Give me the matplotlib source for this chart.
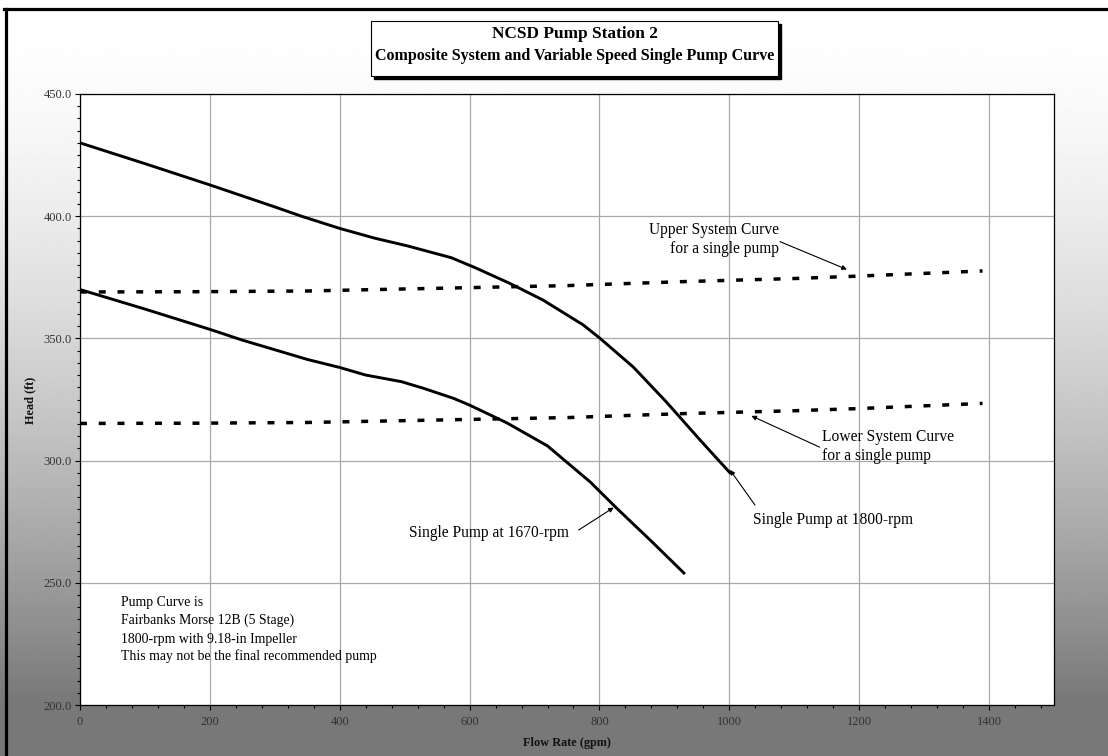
import numpy as np
import matplotlib
matplotlib.use('Agg')
import matplotlib.pyplot as plt
from matplotlib.lines import Line2D
from matplotlib.patches import Rectangle
from matplotlib.ticker import MultipleLocator

plt.rcParams['font.family'] = ['Liberation Serif', 'DejaVu Serif']

# pump curves (flow gpm, head ft)
flow_1800 = [0, 100, 200, 300, 341, 400, 454, 505, 572, 608, 662, 713,
             775, 801, 852, 903, 955, 1001]
head_1800 = [430.0, 421.5, 412.8, 403.8, 400.0, 395.0, 391.0, 387.8, 383.0,
             379.0, 372.5, 365.7, 355.5, 350.0, 338.3, 324.0, 308.4, 295.0]

flow_1670 = [0, 100, 200, 250, 350, 400, 440, 495, 530, 575, 600, 657,
             720, 786, 827, 880, 930]
head_1670 = [370.0, 362.0, 353.7, 349.3, 341.4, 338.1, 335.0, 332.3, 329.5,
             325.5, 322.7, 315.5, 306.0, 291.2, 280.4, 267.0, 254.0]

# system curves
flow_sys = [0, 175, 350, 550, 750, 925, 1100, 1200, 1390]
head_upper = [369.0, 369.1, 369.4, 370.5, 371.6, 373.2, 374.5, 375.5, 377.6]
head_lower = [315.2, 315.3, 315.6, 316.6, 317.6, 319.2, 320.4, 321.3, 323.4]

x_ticks = [0, 200, 400, 600, 800, 1000, 1200, 1400]
y_ticks = [200, 250, 300, 350, 400, 450]

note_lines = ['Pump Curve is', 'Fairbanks Morse 12B (5 Stage)',
              '1800-rpm with 9.18-in Impeller',
              'This may not be the final recommended pump']

W, H = 1108, 756
fig = plt.figure(figsize=(W / 100, H / 100), dpi=100)

# gradient background
bg = fig.add_axes([0, 0, 1, 1], zorder=0)
t = np.linspace(0, 1, 400)
shade = 1 - 0.53 * np.clip(t / 0.93, 0, 1) ** 1.6
bg.imshow(shade[:, None], cmap='gray', vmin=0, vmax=1, aspect='auto',
          extent=[0, 1, 0, 1 - 9 / H])
bg.set_xlim(0, 1)
bg.set_ylim(0, 1)
bg.axis('off')

# frame lines (top and left)
fig.add_artist(Line2D([4 / W, 1], [1 - 8.5 / H] * 2, transform=fig.transFigure,
                      color='black', lw=2.3, zorder=5))
fig.add_artist(Line2D([5.5 / W] * 2, [0, 1 - 8.5 / H],
                      transform=fig.transFigure, color='black', lw=2.3,
                      zorder=5))

ax = fig.add_axes([80 / W, 1 - 705 / H, (1054 - 80) / W, (705 - 94) / H],
                  zorder=2)
ax.set_facecolor('white')

ax.plot(flow_1800, head_1800, color='black', lw=2.1, zorder=3,
        solid_joinstyle='round')
ax.plot(flow_1670, head_1670, color='black', lw=2.1, zorder=3,
        solid_joinstyle='round')
for h in (head_upper, head_lower):
    ax.plot(flow_sys, h, color='black', lw=2.5, dashes=(2.0, 3.4),
            dash_capstyle='butt', zorder=3)

ax.set_xlim(0, 1500)
ax.set_ylim(200, 450)
ax.set_xticks(x_ticks)
ax.set_xticklabels([str(v) for v in x_ticks])
ax.set_yticks(y_ticks)
ax.set_yticklabels(['%.1f' % v for v in y_ticks])
ax.xaxis.set_minor_locator(MultipleLocator(40))
ax.yaxis.set_minor_locator(MultipleLocator(5))
ax.tick_params(which='major', direction='out', length=3.5, width=0.8,
               labelsize=9, colors='black', labelcolor='#333333')
ax.tick_params(which='minor', direction='out', length=2.5, width=0.8)
ax.tick_params(axis='x', pad=4.5)
ax.tick_params(axis='y', pad=2.5)
ax.grid(True, which='major', color='#a8a8a8', lw=0.9)
ax.set_axisbelow(True)
for s in ax.spines.values():
    s.set_color('black')
    s.set_linewidth(0.9)

fig.text(567 / W, 1 - 743 / H, 'Flow Rate (gpm)', ha='center', va='center',
         fontsize=8.8, fontweight='bold', color='#111111')
fig.text(30 / W, 1 - 400 / H, 'Head (ft)', ha='center', va='center',
         rotation=90, fontsize=8.8, fontweight='bold', color='#111111')

# annotations
fs = 11.2
arrow = dict(arrowstyle='-|>', color='black', lw=0.8, mutation_scale=7,
             shrinkA=0, shrinkB=0)
ax.text(1076, 390.4, 'Upper System Curve\nfor a single pump', ha='right',
        va='center', multialignment='right', fontsize=fs, linespacing=1.3)
ax.annotate('', xy=(1181, 378.2), xytext=(1078, 389.6), arrowprops=arrow)

ax.text(1143, 305.8, 'Lower System Curve\nfor a single pump', ha='left',
        va='center', fontsize=fs, linespacing=1.3)
ax.annotate('', xy=(1034, 318.3), xytext=(1139, 305.5), arrowprops=arrow)

ax.text(1037, 275.7, 'Single Pump at 1800-rpm', ha='left', va='center',
        fontsize=fs)
ax.annotate('', xy=(1001, 296.2), xytext=(1039.5, 281.8), arrowprops=arrow)

ax.text(753, 270.3, 'Single Pump at 1670-rpm', ha='right', va='center',
        fontsize=fs)
ax.annotate('', xy=(822, 280.8), xytext=(768, 271.6), arrowprops=arrow)

for line, yv in zip(note_lines, [242.0, 234.5, 227.0, 219.8]):
    ax.text(63, yv, line, ha='left', va='center', fontsize=9.9)

# title box with shadow
bx, by, bw, bh = 370.7 / W, 1 - 76 / H, 407.6 / W, 55.3 / H
fig.add_artist(Rectangle((bx + 3 / W, by - 3 / H), bw, bh,
                         transform=fig.transFigure, facecolor='black',
                         edgecolor='black', zorder=6))
fig.add_artist(Rectangle((bx, by), bw, bh, transform=fig.transFigure,
                         facecolor='white', edgecolor='black', lw=0.8,
                         zorder=7))
fig.text(574.5 / W, 1 - 33.5 / H, 'NCSD Pump Station 2', ha='center',
         va='center', fontsize=12.4, fontweight='bold', zorder=8)
fig.text(574.5 / W, 1 - 55.5 / H,
         'Composite System and Variable Speed Single Pump Curve',
         ha='center', va='center', fontsize=11.5, fontweight='bold', zorder=8)

fig.savefig('out.png', dpi=100)
